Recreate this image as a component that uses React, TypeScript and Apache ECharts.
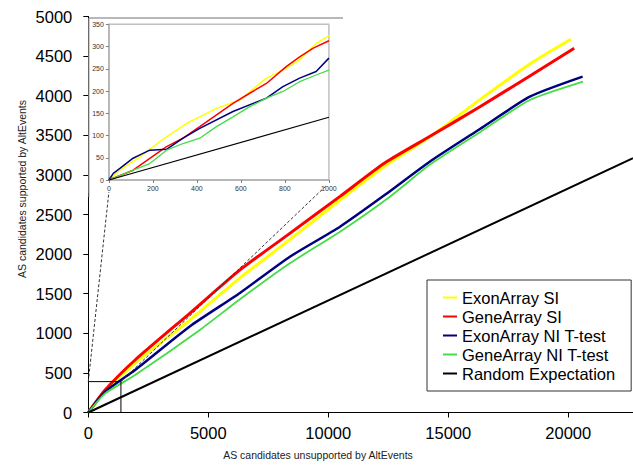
import React, { useEffect, useRef } from "react";
import * as echarts from "echarts";

const NAMES = [
  "ExonArray SI",
  "GeneArray SI",
  "ExonArray NI T-test",
  "GeneArray NI T-test",
  "Random Expectation",
];
const COLORS = ["#FFFF00", "#FF0000", "#000080", "#44DD44", "#000000"];

// Main chart: [unsupported, supported]
const mainExonSI = [
  [0, 0], [700, 270], [1950, 625], [4240, 1168], [6320, 1700], [8300, 2160],
  [10490, 2683], [12350, 3110], [14240, 3480], [16320, 3950], [18400, 4400], [20110, 4712],
];
const mainGeneSI = [
  [0, 0], [700, 284], [1950, 663], [4240, 1256], [6320, 1800], [8300, 2240],
  [10490, 2729], [12350, 3150], [14240, 3487], [16320, 3860], [18400, 4250], [20250, 4598],
];
const mainExonNI = [
  [0, 0], [700, 263], [1950, 537], [4240, 1090], [6320, 1510], [8400, 1967],
  [10490, 2346], [12350, 2745], [14240, 3170], [16320, 3580], [18400, 3987], [20600, 4240],
];
const mainGeneNI = [
  [0, 0], [700, 240], [1950, 473], [4650, 1042], [6320, 1430], [8400, 1884],
  [10490, 2283], [12570, 2725], [14240, 3130], [16320, 3540], [18400, 3945], [20620, 4177],
];
const mainRandom = [[0, 0], [22700, 3210]];
const zoomBox = [[0, 390], [1360, 390], [1360, 0]];

// Inset (first 1000)
const insetExonSI = [
  [0, 0], [50, 22], [141, 52], [231, 86], [262, 97], [352, 127], [413, 142], [489, 161],
  [595, 180], [716, 229], [791, 247], [867, 270], [942, 307], [1000, 324],
];
const insetGeneSI = [
  [0, 0], [110, 22], [262, 75], [337, 94], [413, 120], [564, 172], [640, 195], [716, 217],
  [806, 255], [867, 277], [927, 296], [1000, 313],
];
const insetExonNI = [
  [0, 0], [20, 15], [50, 26], [110, 49], [148, 58], [186, 67], [262, 69], [337, 94],
  [413, 116], [564, 154], [716, 184], [791, 210], [867, 229], [942, 244], [1000, 274],
];
const insetGeneNI = [
  [0, 0], [110, 22], [186, 37], [262, 67], [337, 82], [413, 94], [489, 120], [564, 142],
  [640, 165], [716, 184], [791, 199], [867, 221], [942, 236], [1000, 247],
];
const insetRandom = [[0, 0], [1000, 141]];

const FONT = "'Liberation Sans', Arial, sans-serif";
const plain = (v: number) => String(v);

export default function App() {
  const ref = useRef<HTMLDivElement>(null);
  useEffect(() => {
    if (!ref.current) return;
    const chart = echarts.init(ref.current, null, { renderer: "svg" });
    const mainData = [mainExonSI, mainGeneSI, mainExonNI, mainGeneNI, mainRandom];
    const mainWidths = [3, 3, 2.5, 1.8, 2];
    const insetData = [insetExonSI, insetGeneSI, insetExonNI, insetGeneNI, insetRandom];
    const insetWidths = [1.5, 1.5, 1.5, 1.3, 1.2];

    const series: any[] = [];
    mainData.forEach((d, i) => {
      series.push({
        name: NAMES[i], type: "line", xAxisIndex: 0, yAxisIndex: 0, data: d,
        showSymbol: false, symbol: "none", z: 2,
        smooth: i < 4 ? 0.2 : false,
        lineStyle: { color: COLORS[i], width: mainWidths[i] }, itemStyle: { color: COLORS[i] },
      });
    });
    series.push({
      name: "zoom", type: "line", xAxisIndex: 0, yAxisIndex: 0, data: zoomBox,
      showSymbol: false, symbol: "none", z: 3,
      lineStyle: { color: "#000", width: 1 },
    });
    insetData.forEach((d, i) => {
      series.push({
        name: NAMES[i], type: "line", xAxisIndex: 1, yAxisIndex: 1, data: d,
        showSymbol: false, symbol: "none", z: 8,
        lineStyle: { color: COLORS[i], width: insetWidths[i] }, itemStyle: { color: COLORS[i] },
      });
    });

    const option: any = {
      animation: false,
      textStyle: { fontFamily: FONT },
      grid: [
        { left: 88.3, right: 0, top: 16.5, bottom: 52.5 },
        {
          left: 108.9, width: 220, top: 24.3, height: 155.7, show: true, z: 6,
          backgroundColor: "#fff", borderColor: "#c0c0c0", borderWidth: 1.5,
        },
      ],
      xAxis: [
        {
          type: "value", gridIndex: 0, min: 0, max: 22700, interval: 5000,
          splitLine: { show: false },
          axisLine: { lineStyle: { color: "#000", width: 1 } },
          axisTick: { show: true, length: 5, lineStyle: { color: "#000" } },
          axisLabel: { color: "#000", fontSize: 16.5, margin: 12, showMaxLabel: false, fontFamily: FONT, formatter: plain },
        },
        {
          type: "value", gridIndex: 1, min: 0, max: 1000, interval: 200, z: 7,
          splitLine: { show: false },
          axisLine: { lineStyle: { color: "#b0b0b0", width: 1.5 } },
          axisTick: { show: true, length: 3, lineStyle: { color: "#808080" } },
          axisLabel: { color: "#333", fontSize: 7, margin: 5, fontFamily: FONT, formatter: plain },
        },
      ],
      yAxis: [
        {
          type: "value", gridIndex: 0, min: 0, max: 5000, interval: 500,
          splitLine: { show: false },
          axisLine: { show: true, lineStyle: { color: "#000", width: 1 } },
          axisTick: { show: true, length: 5, lineStyle: { color: "#000" } },
          axisLabel: { color: "#000", fontSize: 16.5, margin: 16, fontFamily: FONT, formatter: plain },
        },
        {
          type: "value", gridIndex: 1, min: 0, max: 350, interval: 50, z: 7,
          splitLine: { show: false },
          axisLine: { show: true, lineStyle: { color: "#b0b0b0", width: 1.5 } },
          axisTick: { show: true, length: 3, lineStyle: { color: "#808080" } },
          axisLabel: { color: "#333", fontSize: 7, margin: 5, fontFamily: FONT, formatter: plain },
        },
      ],
      legend: {
        data: NAMES, orient: "vertical", left: 427, top: 280, z: 10,
        padding: [9, 16, 9, 16], itemGap: 2, itemWidth: 14, itemHeight: 2,
        icon: "rect", backgroundColor: "#fff", borderColor: "#333", borderWidth: 1,
        textStyle: { fontSize: 16.5, color: "#000", fontFamily: FONT },
        selectedMode: false,
      },
      series,
      graphic: { elements: [] as any[] },
    };

    const baseGraphics: any[] = [
      {
        type: "rect", z: 5, silent: true,
        shape: { x: 88.8, y: 18, width: 252, height: 175 },
        style: { fill: "#fff" },
      },
      {
        type: "line", z: 5, silent: true,
        shape: { x1: 89, y1: 18, x2: 343, y2: 18 },
        style: { stroke: "#a0a0a0", lineWidth: 1.5 },
      },
      {
        type: "line", z: 5, silent: true,
        shape: { x1: 89, y1: 18, x2: 89, y2: 197 },
        style: { stroke: "#a0a0a0", lineWidth: 1 },
      },
      {
        type: "text", z: 5, x: 318, y: 455,
        style: {
          text: "AS candidates unsupported by AltEvents", fontSize: 10.5, fill: "#222",
          fontFamily: FONT, align: "center", verticalAlign: "middle",
        },
      },
      {
        type: "text", z: 5, x: 22, y: 189, rotation: Math.PI / 2,
        style: {
          text: "AS candidates supported by AltEvents", fontSize: 10.5, fill: "#222",
          fontFamily: FONT, align: "center", verticalAlign: "middle",
        },
      },
    ];
    option.graphic.elements = baseGraphics;
    chart.setOption(option);

    const tl = chart.convertToPixel({ gridIndex: 0 }, zoomBox[0]) as number[];
    const tr = chart.convertToPixel({ gridIndex: 0 }, zoomBox[1]) as number[];
    const i0 = chart.convertToPixel({ gridIndex: 1 }, [0, 0]) as number[];
    const i1 = chart.convertToPixel({ gridIndex: 1 }, [1000, 0]) as number[];
    const connectors = [
      {
        type: "line", z: 9, silent: true,
        shape: { x1: tl[0], y1: tl[1], x2: i0[0], y2: i0[1] + 12 },
        style: { stroke: "#333", lineWidth: 1, lineDash: [3, 2] },
      },
      {
        type: "line", z: 9, silent: true,
        shape: { x1: tr[0], y1: tr[1], x2: i1[0] - 2, y2: i1[1] + 5 },
        style: { stroke: "#333", lineWidth: 1, lineDash: [3, 2] },
      },
    ];
    option.graphic.elements = baseGraphics.concat(connectors);
    chart.setOption(option, true);

    return () => chart.dispose();
  }, []);
  return (
    <div
      ref={ref}
      style={{ position: "absolute", left: 0, top: 0, width: 633, height: 465, background: "#fff" }}
    />
  );
}
